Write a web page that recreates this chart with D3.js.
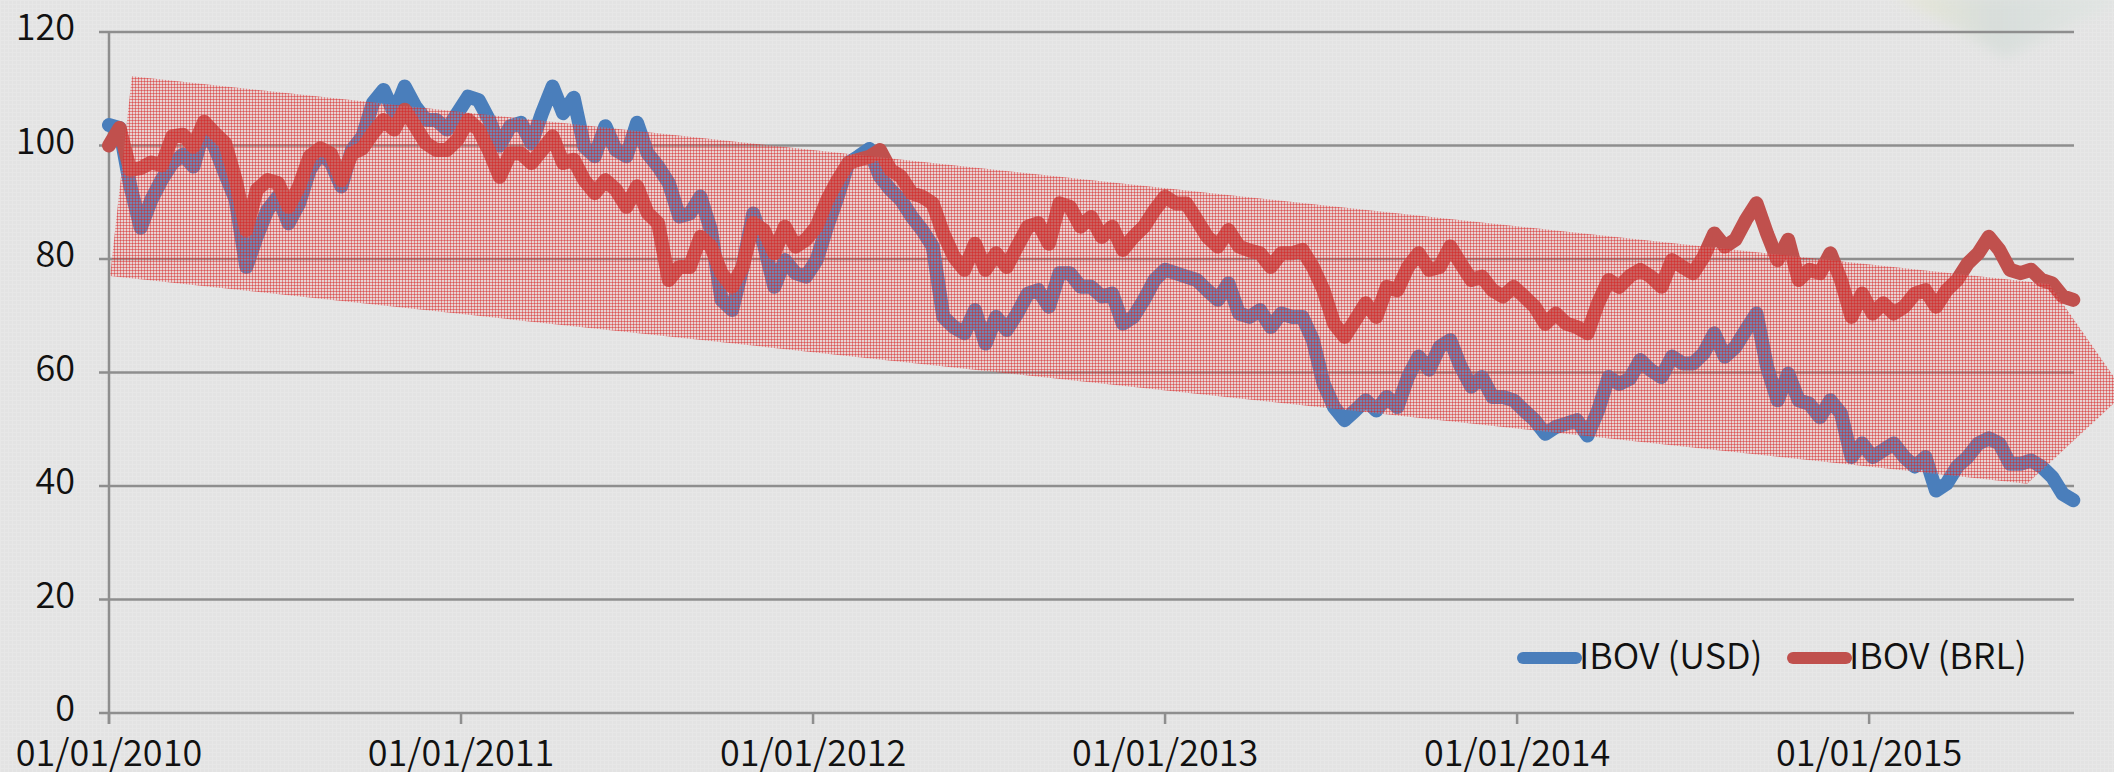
<!DOCTYPE html>
<html><head><meta charset="utf-8">
<script src="https://cdn.jsdelivr.net/npm/d3@7"></script>
<style>html,body{margin:0;padding:0;background:#e4e4e4;overflow:hidden}</style>
</head><body>
<script>
// decimal-year sample dates
const dates = [
2010.00,2010.03,2010.06,2010.09,2010.12,2010.15,2010.18,2010.21,2010.24,2010.27,
2010.30,2010.33,2010.36,2010.39,2010.42,2010.45,2010.48,2010.51,2010.54,2010.57,
2010.60,2010.63,2010.66,2010.69,2010.72,2010.75,2010.78,2010.81,2010.84,2010.87,
2010.90,2010.93,2010.96,2010.99,2011.02,2011.05,2011.08,2011.11,2011.14,2011.17,
2011.20,2011.23,2011.26,2011.29,2011.32,2011.35,2011.38,2011.41,2011.44,2011.47,
2011.50,2011.53,2011.56,2011.59,2011.62,2011.65,2011.68,2011.71,2011.74,2011.77,
2011.80,2011.83,2011.86,2011.89,2011.92,2011.95,2011.98,2012.01,2012.04,2012.07,
2012.10,2012.13,2012.16,2012.19,2012.22,2012.25,2012.28,2012.31,2012.34,2012.37,
2012.40,2012.43,2012.46,2012.49,2012.52,2012.55,2012.58,2012.61,2012.64,2012.67,
2012.70,2012.73,2012.76,2012.79,2012.82,2012.85,2012.88,2012.91,2012.94,2012.97,
2013.00,2013.03,2013.06,2013.09,2013.12,2013.15,2013.18,2013.21,2013.24,2013.27,
2013.30,2013.33,2013.36,2013.39,2013.42,2013.45,2013.48,2013.51,2013.54,2013.57,
2013.60,2013.63,2013.66,2013.69,2013.72,2013.75,2013.78,2013.81,2013.84,2013.87,
2013.90,2013.93,2013.96,2013.99,2014.02,2014.05,2014.08,2014.11,2014.14,2014.17,
2014.20,2014.23,2014.26,2014.29,2014.32,2014.35,2014.38,2014.41,2014.44,2014.47,
2014.50,2014.53,2014.56,2014.59,2014.62,2014.65,2014.68,2014.71,2014.74,2014.77,
2014.80,2014.83,2014.86,2014.89,2014.92,2014.95,2014.98,2015.01,2015.04,2015.07,
2015.10,2015.13,2015.16,2015.19,2015.22,2015.25,2015.28,2015.31,2015.34,2015.37,
2015.40,2015.43,2015.46,2015.49,2015.52,2015.55,2015.58
];
const ibovUSD = [
103.6,103.1,93,85.5,90.4,94,96.9,98.4,96.3,102.8,
99.8,95,90.4,78.6,84,88.6,91,86.3,89.8,95.7,
98.6,97,92.8,99.2,101.6,107.5,109.8,105.7,110.4,106.9,
104.5,104.5,102.8,105.7,108.6,108,104.5,100,103.4,104,
100.4,105.7,110.4,105.7,108.4,99.8,98.1,103.4,99.2,98.1,
104,98.6,96.3,93.4,87.5,88,91,85.1,72.8,71,
78.6,88,82.7,75.1,79.8,77.5,76.9,79.8,85.7,91,
96.9,98.1,99.4,94.5,92.2,90.4,87.5,85.1,82.2,69.8,
68,66.9,71,65.1,69.8,67.5,70.4,73.9,74.5,71.6,
77.5,77.5,75.1,75.1,73.4,73.9,68.6,69.8,72.8,76.3,
78.1,77.5,76.9,76.3,74.5,72.8,75.7,70.4,69.8,71,
68,70.4,69.8,69.8,65.7,58.1,53.9,51.6,53.3,55.1,
53.3,55.7,53.9,59.2,62.8,60.5,64.5,65.7,61,57.5,
59.2,55.7,55.7,55.1,53.3,51.6,49.2,50.4,51,51.6,
48.9,53.3,59.2,58,58.9,62.2,60.4,59.2,62.8,61.6,
61.6,63.4,66.9,62.8,64.5,67.5,70.4,61,55.1,59.8,
55.1,54.5,52.1,55.1,52.8,45.1,47.5,45.1,46.3,47.5,
45.1,43.4,45.1,39.2,40.4,43.4,45.1,47.5,48.4,47.5,
43.9,43.9,44.5,43.4,41.6,38.6,37.5
];
const ibovBRL = [
100,103.1,95.7,96,97,96.5,101.6,101.9,99.8,104.2,
102.2,100.4,93.9,85.1,92.2,93.9,93.4,89.2,92.8,98.1,
99.5,98.6,93.9,98.6,99.5,102.2,104.5,102.8,106.3,103.4,
100.4,99.2,99.2,101,104.5,102.8,99,94.5,98.6,98.6,
96.9,99.2,101.6,96.9,97.5,93.9,91.6,93.9,92.2,89.2,
92.8,88.1,86.3,76.3,78.6,78.6,83.9,82.2,77.5,75.1,
78.6,86.3,85.1,81,85.7,82.2,83.4,85.7,90.4,93.9,
96.9,97.5,98,99.2,95.7,94.5,91.6,91,89.8,84.5,
80.4,78.1,82.7,78.1,81,78.6,82.2,85.7,86.3,82.7,
89.8,89.2,85.7,87.4,83.9,85.7,81.6,83.9,85.7,88.6,
91,89.8,89.8,86.9,83.9,82.2,85.1,82.2,81.5,81,
78.6,81,81,81.6,78.6,74.5,68.6,66.3,69.2,72.2,
69.8,75.1,74.5,78.6,81,78.1,78.6,82.2,79.2,76.3,
76.9,74.5,73.4,75.1,73.4,71.6,68.6,70.4,68.6,68,
66.9,72.2,76.3,75.1,77,78.1,76.9,75.1,79.8,78.6,
77.5,80.4,84.5,82.2,83.4,86.9,89.8,84.5,79.8,83.4,
76.3,78.1,77.5,81,76.3,69.8,73.9,70.4,72.2,70.4,
71.6,73.9,74.5,71.6,74.5,76.3,79.2,81,83.9,81.6,
78.1,77.5,78.1,76.3,75.7,73.4,72.8
];
const seriesNames = ["IBOV (USD)", "IBOV (BRL)"];
const seriesColors = ["#4a7ebb", "#c0504d"];
const yTicks = [0, 20, 40, 60, 80, 100, 120];
const xTicks = [2010, 2011, 2012, 2013, 2014, 2015];
const xTickLabels = ["01/01/2010","01/01/2011","01/01/2012","01/01/2013","01/01/2014","01/01/2015"];
// trend channel arrow, in data coordinates [year, value]
const trendArrow = [[2010.065,112.2],[2015.511,75.6],[2015.727,56.4],[2015.449,40.4],[2010.003,77.0]];

const W = 2114, H = 772;
const FONT = "'Noto Sans CJK SC','Noto Sans',sans-serif";
const x = d3.scaleLinear().domain([2010, 2015.582]).range([109, 2074]);
const y = d3.scaleLinear().domain([0, 120]).range([713, 32]);

const svg = d3.select("body").append("svg").attr("width", W).attr("height", H);
const defs = svg.append("defs");

// background texture
const bg = defs.append("pattern").attr("id","bgtex").attr("width",4).attr("height",4).attr("patternUnits","userSpaceOnUse");
bg.append("rect").attr("width",4).attr("height",4).attr("fill","#e3e3e3");
bg.append("rect").attr("width",4).attr("height",1).attr("fill","#e7e7e7");
bg.append("rect").attr("width",1).attr("height",4).attr("fill","#e7e7e7");
svg.append("rect").attr("width",W).attr("height",H).attr("fill","url(#bgtex)");

// hatch pattern
const hp = defs.append("pattern").attr("id","hatch").attr("width",3).attr("height",3).attr("patternUnits","userSpaceOnUse");
hp.append("rect").attr("width",3).attr("height",3).attr("fill","rgba(240,150,150,0.24)");
hp.append("rect").attr("width",3).attr("height",1).attr("fill","rgba(215,30,30,0.44)");
hp.append("rect").attr("width",1).attr("height",3).attr("fill","rgba(215,30,30,0.44)");

// faint decorative blur in top-right corner
const blur = defs.append("filter").attr("id","blur").attr("x","-50%").attr("y","-50%").attr("width","200%").attr("height","200%");
blur.append("feGaussianBlur").attr("stdDeviation",7);
const lg = defs.append("linearGradient").attr("id","deco").attr("x1","0").attr("x2","1");
lg.append("stop").attr("offset","0").attr("stop-color","#e8e8d0");
lg.append("stop").attr("offset","0.45").attr("stop-color","#d4dcd8");
lg.append("stop").attr("offset","1").attr("stop-color","#dfe5e2");
svg.append("path").attr("d","M1895,-5 L2114,-5 L2114,5 L2080,20 L2005,58 L1960,30 Z")
  .attr("fill","url(#deco)").attr("opacity",0.75).attr("filter","url(#blur)");

const gridColor = "#8e8e8e";
// gridlines + y ticks
svg.append("g").selectAll("line").data(yTicks).join("line")
  .attr("x1", 99).attr("x2", x.range()[1])
  .attr("y1", d => y(d)).attr("y2", d => y(d))
  .attr("stroke", gridColor).attr("stroke-width", 2.5);
// y axis line
svg.append("line").attr("x1",x(2010)).attr("x2",x(2010)).attr("y1",y(120)).attr("y2",y(0)+11)
  .attr("stroke",gridColor).attr("stroke-width",2.5);
// x ticks
svg.append("g").selectAll("line").data(xTicks).join("line")
  .attr("x1", d => x(d)).attr("x2", d => x(d))
  .attr("y1", y(0)).attr("y2", y(0) + 11)
  .attr("stroke", gridColor).attr("stroke-width", 2.5);

// y labels
svg.append("g").selectAll("text").data(yTicks).join("text")
  .attr("x", 75).attr("y", d => y(d) + 8)
  .attr("text-anchor","end").attr("font-family",FONT).attr("font-weight",350).attr("font-size",36).attr("fill","#111")
  .text(d => d);
// x labels
svg.append("g").selectAll("text").data(xTicks).join("text")
  .attr("x", d => x(d)).attr("y", 766)
  .attr("text-anchor","middle").attr("font-family",FONT).attr("font-weight",350).attr("font-size",36).attr("fill","#111")
  .text((d,i) => xTickLabels[i]);

// series lines
const line = d3.line().x(d => x(d[0])).y(d => y(d[1]));
[ibovUSD, ibovBRL].forEach((vals, s) => {
  svg.append("path")
    .datum(dates.map((t, i) => [t, vals[i]]))
    .attr("d", line)
    .attr("fill","none").attr("stroke", seriesColors[s])
    .attr("stroke-width", 14).attr("stroke-linejoin","round").attr("stroke-linecap","round");
});

// trend arrow overlay
svg.append("path")
  .attr("d", d3.line().x(d => x(d[0])).y(d => y(d[1]))(trendArrow) + "Z")
  .attr("fill","url(#hatch)").attr("stroke","none");

// legend
const legX = [1523, 1793];
seriesNames.forEach((name, s) => {
  svg.append("line").attr("x1", legX[s]).attr("x2", legX[s] + 53).attr("y1", 658).attr("y2", 658)
    .attr("stroke", seriesColors[s]).attr("stroke-width", 12).attr("stroke-linecap","round");
  svg.append("text").attr("x", legX[s] + 56).attr("y", 669)
    .attr("font-family",FONT).attr("font-weight",350).attr("font-size",36).attr("fill","#111").text(name);
});
</script>
</body></html>
